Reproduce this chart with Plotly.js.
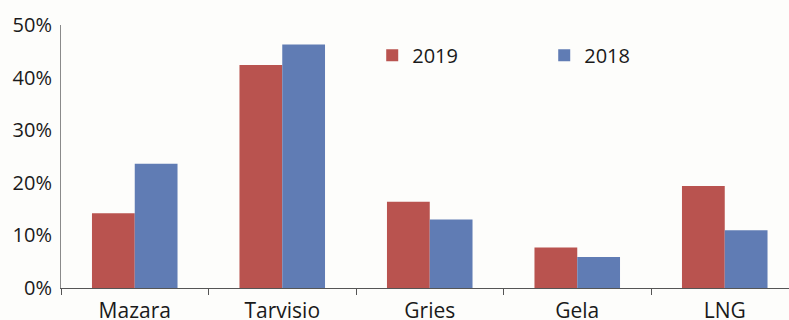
<!DOCTYPE html>
<html>
<head>
<meta charset="utf-8">
<script src="https://cdn.plot.ly/plotly-3.0.1.min.js"></script>
<style>
  html, body { margin: 0; padding: 0; background: #fdfdfb; }
  #chart { width: 789px; height: 320px; }
</style>
</head>
<body>
<div id="chart"></div>
<script>
// Terminal shares by entry point, in percent
const categories = ['Mazara', 'Tarvisio', 'Gries', 'Gela', 'LNG'];
const share2019 = [14.2, 42.4, 16.4, 7.7, 19.4];
const share2018 = [23.6, 46.3, 13.0, 5.9, 11.0];
const yTicks = [0, 10, 20, 30, 40, 50];

const red = '#b9534f';
const blue = '#607cb4';

const traces = [
  { type: 'bar', name: '2019', x: categories, y: share2019, marker: { color: red }, hoverinfo: 'skip' },
  { type: 'bar', name: '2018', x: categories, y: share2018, marker: { color: blue }, hoverinfo: 'skip' }
];

const layout = {
  width: 789,
  height: 320,
  margin: { l: 61, r: 0, t: 25, b: 32, pad: 0 },
  paper_bgcolor: '#fdfdfb',
  plot_bgcolor: '#fdfdfb',
  font: { family: 'Open Sans, sans-serif', size: 20, color: '#1a1a1a' },
  barmode: 'group',
  bargap: 0.42,
  bargroupgap: 0,
  showlegend: true,
  legend: {
    orientation: 'h',
    x: 0.4275, xanchor: 'left',
    y: 0.885, yanchor: 'middle',
    entrywidth: 127,
    font: { size: 20, color: '#1a1a1a' },
    bgcolor: 'rgba(0,0,0,0)'
  },
  xaxis: {
    type: 'category',
    range: [-0.5, 4.4356],
    showline: true,
    linecolor: '#555555',
    linewidth: 1,
    ticks: 'outside',
    tickson: 'boundaries',
    ticklen: 6,
    tickcolor: '#555555',
    showgrid: false,
    zeroline: false,
    ticklabelstandoff: 4,
    tickfont: { size: 21 },
    fixedrange: true
  },
  yaxis: {
    range: [0, 50],
    tickvals: yTicks,
    ticktext: yTicks.map(v => v + '%'),
    showline: true,
    linecolor: '#8a8a8a',
    linewidth: 1,
    ticks: '',
    showgrid: false,
    zeroline: false,
    ticklabelstandoff: 4,
    tickfont: { size: 20 },
    fixedrange: true
  }
};

Plotly.newPlot('chart', traces, layout, { staticPlot: true, displayModeBar: false });
</script>
</body>
</html>
